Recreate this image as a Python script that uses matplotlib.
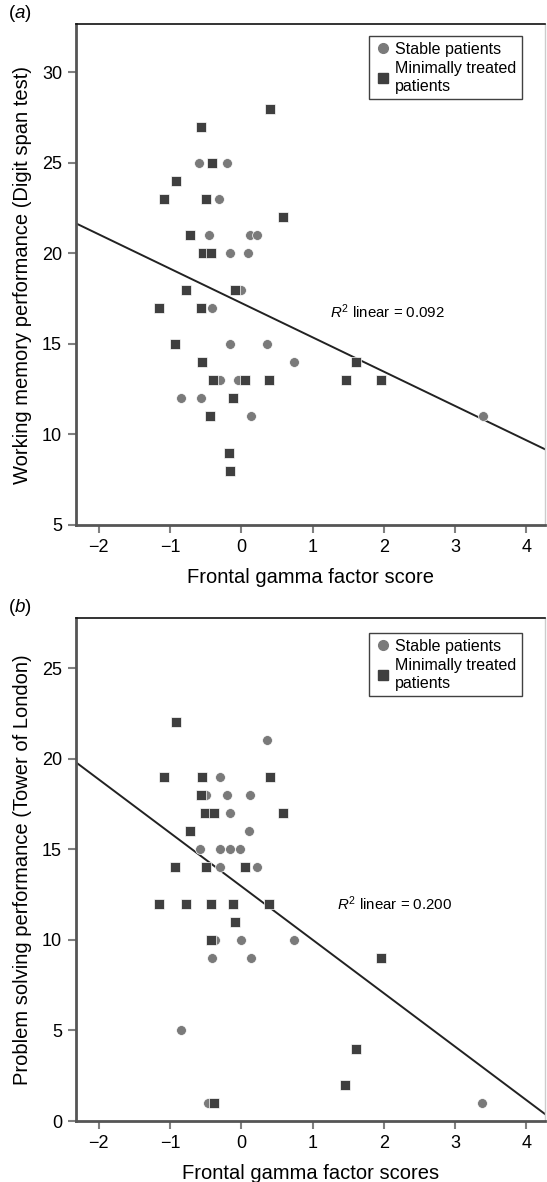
import matplotlib
matplotlib.use('Agg')
import matplotlib.pyplot as plt
from matplotlib.lines import Line2D
import numpy as np

plt.rcParams['font.family'] = ['Liberation Sans', 'DejaVu Sans']
plt.rcParams['mathtext.fontset'] = 'custom'
plt.rcParams['mathtext.rm'] = 'Liberation Sans'
plt.rcParams['mathtext.it'] = 'Liberation Sans:italic'

# panel (a): working memory (digit span)
a_stable_x = [-0.596, -0.197, -0.315, -0.455, 0.126, 0.225, -0.164, 0.100, 0.000,
              -0.413, -0.164, 0.365, 0.735, -0.295, -0.048, -0.853, -0.572, 0.131, 3.393]
a_stable_y = [25, 25, 23, 21, 21, 21, 20, 20, 18, 17, 15, 15, 14, 13, 13, 12, 12, 11, 11]
a_minimal_x = [0.397, -0.562, -0.407, -0.913, -1.087, -0.490, 0.584, -0.726, -0.540, -0.430,
               -0.773, -0.094, -1.157, -0.562, -0.927, -0.553, 1.615, -0.399, 0.056, 0.383,
               1.465, 1.966, -0.118, -0.435, -0.174, -0.164]
a_minimal_y = [28, 27, 25, 24, 23, 23, 22, 21, 20, 20, 18, 18, 17, 17, 15, 14, 14, 13, 13, 13,
               13, 13, 12, 11, 9, 8]
a_fit = (-1.896, 17.26)  # slope, intercept
a_r2 = '0.092'

# panel (b): problem solving (Tower of London)
b_stable_x = [0.365, -0.305, -0.490, -0.197, 0.126, -0.164, 0.103, -0.586, -0.305, -0.164,
              -0.014, -0.305, 0.219, -0.375, -0.010, 0.735, -0.413, 0.131, -0.853, -0.463, 3.383]
b_stable_y = [21, 19, 18, 18, 18, 17, 16, 15, 15, 15, 15, 14, 14, 10, 10, 10, 9, 9, 5, 1, 1]
b_minimal_x = [-0.913, -1.087, -0.553, 0.397, -0.562, -0.515, -0.389, 0.584, -0.726, -0.927,
               -0.490, 0.046, -1.157, -0.773, -0.431, -0.118, 0.383, -0.094, -0.431, 1.966,
               1.615, 1.457, -0.381]
b_minimal_y = [22, 19, 19, 19, 18, 17, 17, 17, 16, 14, 14, 14, 12, 12, 12, 12, 12, 11, 10, 9,
               4, 2, 1]
b_fit = (-2.95, 12.95)
b_r2 = '0.200'

x_ticks = [-2, -1, 0, 1, 2, 3, 4]

W, H = 547, 1182
fig = plt.figure(figsize=(W / 100, H / 100), dpi=100)


def panel(rect, sx, sy, mx, my, fit, r2, ylim, yticks, ylabel, xlabel, tag, r2pos, leg_anchor):
    ax = fig.add_axes(rect)
    ax.set_xlim(-2.32, 4.26)
    ax.set_ylim(*ylim)
    xs = np.array(ax.get_xlim())
    ax.plot(xs, fit[1] + fit[0] * xs, color='#222222', lw=1.4, zorder=1)
    ax.scatter(sx, sy, marker='o', s=50, color='#7a7a7a', edgecolors='white',
               linewidths=0.5, zorder=2)
    ax.scatter(mx, my, marker='s', s=48, color='#3f3f3f', edgecolors='white',
               linewidths=0.5, zorder=3)
    ax.set_xticks(x_ticks)
    ax.set_yticks(yticks)
    ax.tick_params(direction='out', length=6, width=1.5, color='#808080',
                   labelsize=13, pad=4)
    ax.spines['left'].set_color('#555555')
    ax.spines['left'].set_linewidth(2)
    ax.spines['bottom'].set_color('#555555')
    ax.spines['bottom'].set_linewidth(2)
    ax.spines['top'].set_color('#111111')
    ax.spines['top'].set_linewidth(1.2)
    ax.spines['right'].set_color('#cccccc')
    ax.spines['right'].set_linewidth(1)
    ax.set_ylabel(ylabel, fontsize=14.5, labelpad=7)
    ax.set_xlabel(xlabel, fontsize=14.5, labelpad=9)
    ax.text(r2pos[0], r2pos[1], r'$R^2$ linear = ' + r2, fontsize=10.8,
            ha='center', va='center')
    ax.text(-0.145, 1.0, tag, transform=ax.transAxes, fontsize=13.5, ha='left', va='bottom')
    handles = [Line2D([], [], marker='o', ls='', color='#7a7a7a', markersize=7),
               Line2D([], [], marker='s', ls='', color='#3f3f3f', markersize=6.5)]
    leg = ax.legend(handles, ['Stable patients', 'Minimally treated\npatients'],
                    loc='upper left', bbox_to_anchor=leg_anchor, fontsize=11.5,
                    frameon=True, fancybox=False, edgecolor='#111111',
                    handletextpad=0.3, handlelength=1.0, borderpad=0.35,
                    labelspacing=0.3, borderaxespad=0)
    leg.get_frame().set_linewidth(1.0)
    return ax


panel([76 / W, 1 - 525 / H, (545 - 76) / W, (525 - 24) / H],
      a_stable_x, a_stable_y, a_minimal_x, a_minimal_y, a_fit, a_r2,
      (5, 32.67), [5, 10, 15, 20, 25, 30],
      'Working memory performance (Digit span test)', 'Frontal gamma factor score',
      '($a$)', (2.05, 16.8), ((369 - 76) / 469, (525 - 36) / 501))

panel([76 / W, 1 - 1121 / H, (545 - 76) / W, (1121 - 618) / H],
      b_stable_x, b_stable_y, b_minimal_x, b_minimal_y, b_fit, b_r2,
      (0, 27.76), [0, 5, 10, 15, 20, 25],
      'Problem solving performance (Tower of London)', 'Frontal gamma factor scores',
      '($b$)', (2.15, 12.0), ((369 - 76) / 469, (1121 - 633) / 503))

fig.savefig('out.png', dpi=100)
